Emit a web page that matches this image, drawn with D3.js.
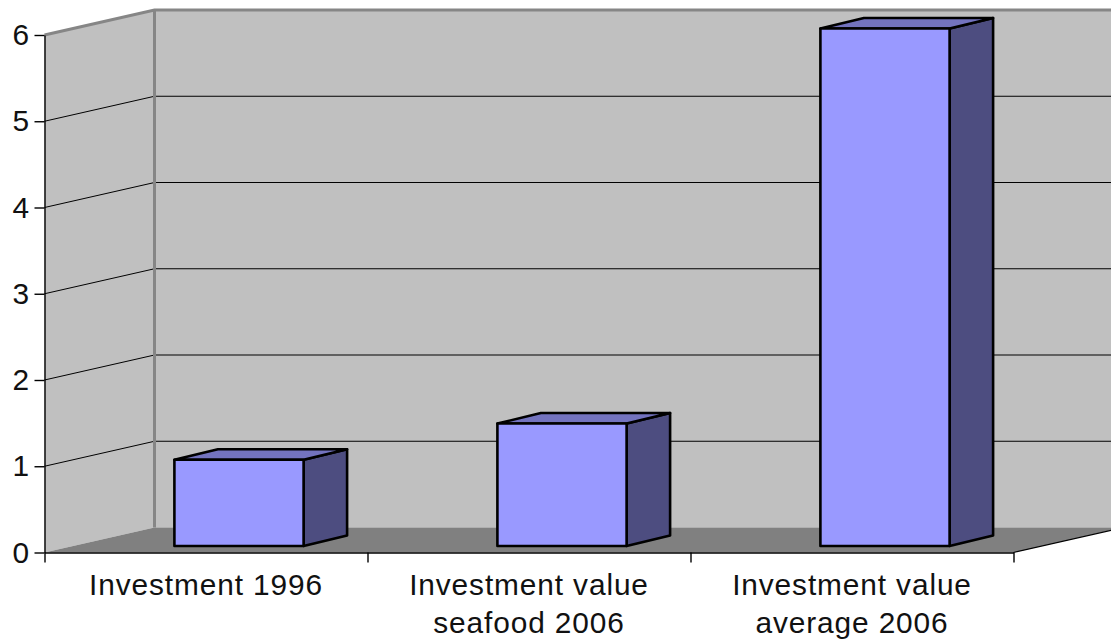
<!DOCTYPE html>
<meta charset="utf-8">
<style>

body {
  margin: 0;
  background: #fff;
}

svg {
  display: block;
  font-family: "Liberation Sans", Arial, sans-serif;
}

.axis path,
.axis line {
  stroke: #000;
  stroke-width: 1.4;
}

.label,
.tick-label {
  font-size: 29px;
  letter-spacing: 0.85px;
  fill: #111;
}

.grid {
  stroke: #000;
  stroke-width: 1;
  fill: none;
}

.edge {
  stroke: #868686;
  stroke-width: 3;
  fill: none;
}

.bar path {
  stroke: #000;
  stroke-width: 2.6;
  stroke-linejoin: round;
}

</style>
<body>
<script src="https://d3js.org/d3.v7.min.js"></script>
<script>

var categories = ["Investment 1996", "Investment value seafood 2006", "Investment value average 2006"];
var labelLines = [["Investment 1996"], ["Investment value", "seafood 2006"], ["Investment value", "average 2006"]];
var values = [1, 1.42, 6];
var yTicks = [0, 1, 2, 3, 4, 5, 6];

var width = 1111,
    height = 640,
    left = 44.5,
    right = 1013.5,
    depthX = 110,   // how far the back wall sits from the front plane
    depthY = 25,
    barDepthX = 43.5,
    barDepthY = 10.5,
    barShiftX = 33, // bars stand part way into the floor
    barShiftY = 6.5,
    textStretch = 1.03; // the original text is a bit wider than the font

var y = d3.scaleLinear()
    .domain([0, 6])
    .range([552.5, 35]);

var x = d3.scaleBand()
    .domain(categories)
    .range([left, right])
    .padding(0.6)
    .paddingOuter(0.3);

// tick marks sit between the categories, so the axis gets its own scale
var xEdge = d3.scaleLinear()
    .domain([0, categories.length])
    .range([left, right]);

var svg = d3.select("body").append("svg")
    .attr("width", width)
    .attr("height", height);

function poly(points) {
  return "M" + points.map(function(p) { return p.join(","); }).join("L") + "Z";
}

// walls
svg.append("path")
    .attr("d", poly([[left, y(6)], [left + depthX, y(6) - depthY], [right + depthX, y(6) - depthY],
      [right + depthX, y(0) - depthY], [left + depthX, y(0) - depthY], [left, y(0)]]))
    .attr("fill", "#c0c0c0");

// floor
svg.append("path")
    .attr("d", poly([[left, y(0)], [left + depthX, y(0) - depthY], [right + depthX, y(0) - depthY], [right, y(0)]]))
    .attr("fill", "#808080");

// gridlines, side wall then back wall
svg.selectAll(".grid")
    .data(yTicks.slice(1, 6))
  .enter().append("path")
    .attr("class", "grid")
    .attr("d", function(d) {
      return "M" + left + "," + y(d) + "L" + (left + depthX) + "," + (y(d) - depthY) + "H" + (right + depthX);
    });

// grey outline of the walls
svg.append("path")
    .attr("class", "edge")
    .attr("d", "M" + left + "," + y(6) + "L" + (left + depthX) + "," + (y(6) - depthY) + "H" + (right + depthX));

svg.append("path")
    .attr("class", "edge")
    .attr("d", "M" + (left + depthX) + "," + (y(6) - depthY) + "V" + (y(0) - depthY));

// front edge of the floor going back on the right
svg.append("path")
    .attr("d", "M" + right + "," + y(0) + "L" + (right + depthX) + "," + (y(0) - depthY))
    .attr("stroke", "#000")
    .attr("stroke-width", 1.2);

// bars
var bar = svg.selectAll(".bar")
    .data(values)
  .enter().append("g")
    .attr("class", "bar");

bar.append("path")
    .attr("fill", "#4d4d80")
    .attr("d", function(d, i) {
      var x1 = x(categories[i]) + barShiftX + x.bandwidth();
      return poly([[x1, y(d) - barShiftY], [x1 + barDepthX, y(d) - barShiftY - barDepthY],
        [x1 + barDepthX, y(0) - barShiftY - barDepthY], [x1, y(0) - barShiftY]]);
    });

bar.append("path")
    .attr("fill", "#7373bf")
    .attr("d", function(d, i) {
      var x0 = x(categories[i]) + barShiftX, x1 = x0 + x.bandwidth(), t = y(d) - barShiftY;
      return poly([[x0, t], [x0 + barDepthX, t - barDepthY], [x1 + barDepthX, t - barDepthY], [x1, t]]);
    });

bar.append("path")
    .attr("fill", "#9999ff")
    .attr("d", function(d, i) {
      var x0 = x(categories[i]) + barShiftX, x1 = x0 + x.bandwidth(), t = y(d) - barShiftY, b = y(0) - barShiftY;
      return poly([[x0, t], [x1, t], [x1, b], [x0, b]]);
    });

// axes
svg.append("g")
    .attr("class", "y axis")
    .attr("transform", "translate(" + left + ",0)")
    .call(d3.axisLeft(y).tickValues(yTicks).tickSize(10).tickSizeOuter(0).tickFormat(""));

svg.append("g")
    .attr("class", "x axis")
    .attr("transform", "translate(0," + y(0) + ")")
    .call(d3.axisBottom(xEdge).ticks(categories.length).tickSize(10).tickSizeOuter(0).tickFormat(""));

svg.selectAll(".axis text").remove();

svg.selectAll(".tick-label")
    .data(yTicks)
  .enter().append("text")
    .attr("class", "tick-label")
    .attr("text-anchor", "end")
    .attr("transform", function(d) {
      return "translate(30," + (y(d) + 10) + ") scale(" + textStretch + ",1)";
    })
    .text(function(d) { return d; });

// category labels, wrapped by hand like the original
svg.selectAll(".label")
    .data(labelLines)
  .enter().append("text")
    .attr("class", "label")
    .attr("text-anchor", "middle")
    .attr("transform", function(d, i) {
      return "translate(" + (xEdge(i) + xEdge(i + 1)) / 2 + ",0) scale(" + textStretch + ",1)";
    })
    .each(function(lines) {
      d3.select(this).selectAll("tspan")
          .data(lines)
        .enter().append("tspan")
          .attr("x", 0)
          .attr("y", function(d, j) { return 595 + j * 38.5; })
          .text(function(d) { return d; });
    });

</script>
